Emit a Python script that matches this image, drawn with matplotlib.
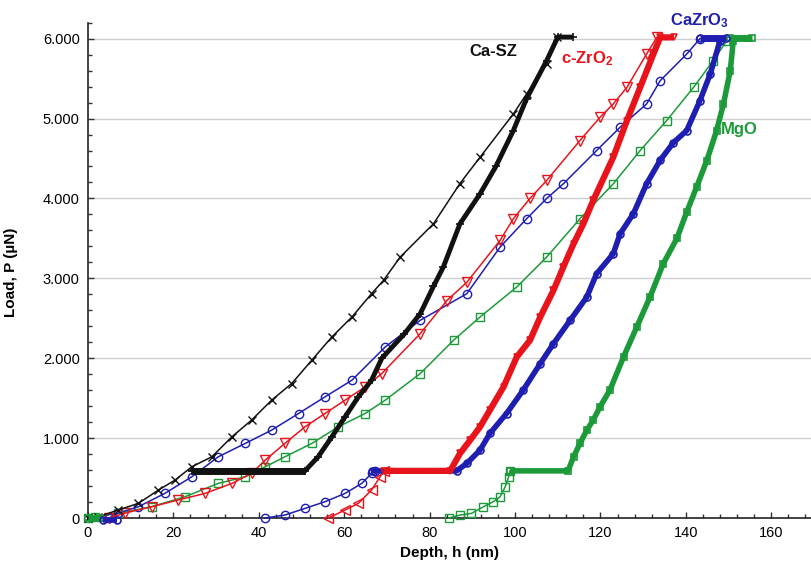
import matplotlib
matplotlib.use("Agg")
import matplotlib.pyplot as plt
from matplotlib.ticker import MultipleLocator, FuncFormatter

plt.rcParams['font.family'] = ['Liberation Sans', 'DejaVu Sans']
plt.rcParams['mathtext.fontset'] = 'custom'
plt.rcParams['mathtext.rm'] = 'Liberation Sans:bold'
plt.rcParams['mathtext.default'] = 'rm'

# ---------------- data ----------------
# Ca-SZ
casz_load_h = [0, 2.4, 7.1, 11.8, 16.5, 20.4, 24.3, 29.0, 33.7, 38.3, 43.0, 47.7, 52.4, 57.1,
               61.8, 66.4, 69.2, 73.1, 80.9, 87.1, 91.8, 99.6, 102.7, 107.4, 109.8]
casz_load_p = [0, 16, 100, 183, 350, 475, 641, 766, 1016, 1225, 1475, 1683, 1975, 2266,
               2516, 2808, 2975, 3266, 3683, 4187, 4516, 5058, 5308, 5683, 6016]
casz_dense_h = [24.3, 50.8, 53.9, 57.1, 60.2, 63.3, 66.4, 68.8, 74.0, 77.8, 80.9, 83.2, 87.1,
                91.8, 95.5, 99.6, 102.7, 107.4, 110.0, 113.5]
casz_dense_p = [590, 590, 766, 1016, 1266, 1516, 1725, 2000, 2300, 2558, 2900, 3141, 3683,
                4058, 4400, 4850, 5250, 5725, 6020, 6020]

# c-ZrO2
czro_load_h = [5.0, 8.7, 14.9, 21.1, 27.4, 33.7, 38.3, 41.5, 46.1, 50.8, 55.5, 60.2, 64.9, 68.8,
               77.8, 84.0, 88.7, 96.5, 99.6, 103.5, 107.4, 115.2, 119.9, 123.0, 126.2, 130.8, 133.2]
czro_load_p = [0, 62, 141, 225, 308, 433, 558, 725, 933, 1141, 1308, 1475, 1641, 1808,
               2308, 2720, 2950, 3475, 3746, 4000, 4225, 4725, 5016, 5183, 5391, 5808, 6016]
czro_low_h = [56.3, 60.2, 63.3, 66.4, 68.4, 69.2]
czro_low_p = [0, 100, 183, 350, 516, 590]
czro_dense_h = [69.2, 84.8, 87.1, 89.5, 91.8, 94.1, 97.3, 100.4, 103.5, 105.9, 109.0, 111.3,
                113.7, 116.0, 118.3, 123.0, 126.2, 129.3, 132.4, 134.0, 137.2]
czro_dense_p = [590, 590, 808, 975, 1141, 1350, 1641, 2016, 2225, 2516, 2850, 3141,
                3433, 3683, 3975, 4516, 4975, 5391, 5808, 6016, 6016]

# CaZrO3
cazr_load_h = [5.0, 7.1, 11.8, 18.0, 24.3, 30.5, 36.8, 43.0, 49.3, 55.5, 61.8, 69.6, 77.8,
               88.7, 96.5, 102.7, 107.4, 111.3, 119.1, 124.6, 130.8, 134.0, 140.2, 143.3]
cazr_load_p = [0, 62, 141, 308, 516, 766, 933, 1100, 1308, 1516, 1725, 2141, 2475,
               2808, 3391, 3746, 4000, 4183, 4600, 4891, 5183, 5475, 5808, 6000]
cazr_low_h = [41.5, 46.1, 50.8, 55.5, 60.2, 64.1, 66.4, 67.2]
cazr_low_p = [0, 37, 120, 204, 308, 433, 558, 590]
cazr_dense_h = [66.4, 86.3, 88.7, 91.8, 94.1, 98.0, 101.9, 105.9, 109.0, 112.9, 116.8, 119.1,
                123.0, 124.6, 127.7, 130.8, 134.0, 137.1, 140.2, 143.3, 145.7, 148.0]
cazr_dense_p = [590, 590, 683, 850, 1058, 1308, 1600, 1933, 2183, 2475, 2766, 3058,
                3308, 3558, 3808, 4183, 4480, 4700, 4850, 5225, 5558, 5975]
cazr_top_h = [143.3, 149.5]
cazr_top_p = [6010, 6010]
cazr_zero_h = [3.5, 6.7]
cazr_zero_p = [-20, -20]

# MgO
mgo_load_h = [0, 1.6, 7.1, 14.9, 22.7, 30.5, 36.8, 41.5, 46.1, 52.4, 58.6, 64.9, 69.6, 77.8,
              85.6, 91.8, 100.4, 107.4, 115.2, 123.0, 129.3, 135.5, 141.8, 146.4, 149.6]
mgo_load_p = [0, 16, 58, 141, 266, 433, 516, 641, 766, 933, 1141, 1308, 1475, 1808,
              2225, 2516, 2891, 3266, 3746, 4183, 4600, 4975, 5391, 5725, 5975]
mgo_low_h = [84.5, 87.1, 89.8, 92.6, 94.9, 96.5, 97.7, 98.5, 98.8]
mgo_low_p = [0, 37, 58, 141, 204, 266, 391, 516, 590]
mgo_dense_h = [98.8, 112.4, 113.7, 115.2, 116.8, 118.3, 119.9, 122.2, 125.4, 128.5, 131.6,
               134.7, 137.9, 140.2, 142.5, 144.9, 147.2, 148.8, 150.4, 151.1]
mgo_dense_p = [590, 590, 766, 933, 1100, 1225, 1391, 1600, 2016, 2391, 2766,
               3183, 3500, 3830, 4141, 4475, 4850, 5183, 5600, 5975]
mgo_top_h = [150.4, 155.4]
mgo_top_p = [6010, 6010]
mgo_zero_h = [0, 2.8]
mgo_zero_p = [0, 0]

x_ticks = [0, 20, 40, 60, 80, 100, 120, 140, 160]
y_ticks = [0, 1000, 2000, 3000, 4000, 5000, 6000]

BLACK = '#111111'
RED = '#E8141C'
BLUE = '#1E1EB0'
GREEN = '#1C9A3A'

# ---------------- figure ----------------
fig = plt.figure(figsize=(8.11, 5.62), dpi=100)
ax = fig.add_axes([88 / 811, 44 / 562, 723 / 811, 495.3 / 562])

for y in y_ticks[1:]:
    ax.axhline(y, color='#cfcfcf', lw=1.0, zorder=0)

def sparse(h, p, color, marker, ms=6.0, mew=1.0):
    ax.plot(h, p, color=color, lw=1.1, marker=marker, ms=ms, mfc='none', mec=color,
            mew=mew, clip_on=False, zorder=3)

def dense(h, p, color, marker, lw=4.0, ms=5.0):
    ax.plot(h, p, color=color, lw=lw, marker=marker, ms=ms, mfc='none', mec=color,
            mew=1.2, solid_capstyle='butt', clip_on=False, zorder=4)

# green
sparse(mgo_load_h, mgo_load_p, GREEN, 's', ms=5.5)
sparse(mgo_low_h, mgo_low_p, GREEN, 's', ms=5.5)
dense(mgo_dense_h, mgo_dense_p, GREEN, 's')
dense(mgo_top_h, mgo_top_p, GREEN, 's', lw=5)
dense(mgo_zero_h, mgo_zero_p, GREEN, 's', lw=5)

# blue
sparse(cazr_load_h, cazr_load_p, BLUE, 'o')
sparse(cazr_low_h, cazr_low_p, BLUE, 'o')
dense(cazr_dense_h, cazr_dense_p, BLUE, 'o')
dense(cazr_top_h, cazr_top_p, BLUE, 'o', lw=5)
dense(cazr_zero_h, cazr_zero_p, BLUE, 'o', lw=4)

# red
sparse(czro_load_h, czro_load_p, RED, 'v', ms=6.5)
sparse(czro_low_h, czro_low_p, RED, '<', ms=6.5)
dense(czro_dense_h, czro_dense_p, RED, 'v', lw=4.5)

# black
sparse(casz_load_h, casz_load_p, BLACK, 'x', ms=5.5)
dense(casz_dense_h, casz_dense_p, BLACK, '+', lw=3.5, ms=6)
ax.plot(casz_dense_h[:2], casz_dense_p[:2], color=BLACK, lw=5, solid_capstyle='butt',
        clip_on=False, zorder=5)

# labels on curves
ax.text(94.8, 5836, 'Ca-SZ', color=BLACK, fontsize=12, fontweight='bold',
        ha='center', va='center')
ax.text(116.8, 5745, 'c-ZrO$_2$', color=RED, fontsize=12, fontweight='bold',
        ha='center', va='center')
ax.text(143.3, 6225, 'CaZrO$_3$', color=BLUE, fontsize=12, fontweight='bold',
        ha='center', va='center', clip_on=False)
ax.text(152.4, 4857, 'MgO', color=GREEN, fontsize=12, fontweight='bold',
        ha='center', va='center')

# axes styling
ax.set_xlim(0, 169.3)
ax.set_ylim(0, 6200)
ax.set_xticks(x_ticks)
ax.set_yticks(y_ticks)
ax.xaxis.set_minor_locator(MultipleLocator(4))
ax.yaxis.set_minor_locator(MultipleLocator(200))
ax.yaxis.set_major_formatter(FuncFormatter(
    lambda v, pos: f"{int(round(v)):,}".replace(',', '.')))
ax.tick_params(axis='both', which='both', direction='in', labelsize=10.5,
               color='#333333', width=1.0)
ax.tick_params(axis='both', which='major', length=4)
ax.tick_params(axis='both', which='minor', length=3)
ax.tick_params(axis='x', pad=6)
ax.tick_params(axis='y', pad=6)

for s in ['top', 'right']:
    ax.spines[s].set_visible(False)
for s in ['left', 'bottom']:
    ax.spines[s].set_linewidth(1.2)
    ax.spines[s].set_color('#222222')

ax.set_xlabel('Depth, h (nm)', fontsize=11, fontweight='bold')
ax.xaxis.set_label_coords(0.5, -0.057)
ax.set_ylabel('Load, P (µN)', fontsize=11, fontweight='bold')
ax.yaxis.set_label_coords(-0.097, 0.497)

fig.savefig('out.png', dpi=100)
